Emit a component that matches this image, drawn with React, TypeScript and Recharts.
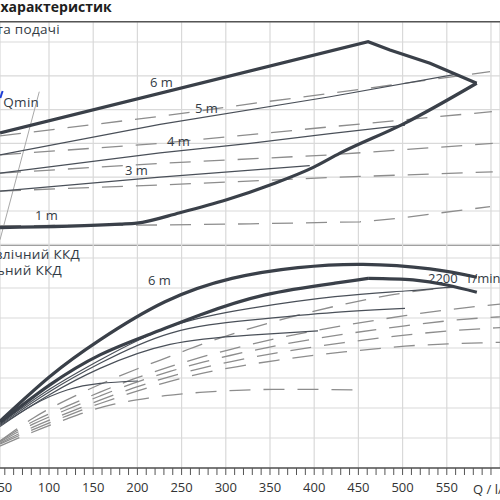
import { LineChart, Line, XAxis, YAxis, CartesianGrid, ReferenceLine } from "recharts"

type Pt = [number, number]

// Q in l/min on both panels
const majorTicks = [50, 100, 150, 200, 250, 300, 350, 400, 450, 500, 550, 600]
const labelTicks = [50, 100, 150, 200, 250, 300, 350, 400, 450, 500, 550]
const minorTicks = majorTicks.flatMap((m) => [m, m + 10, m + 20, m + 30, m + 40]).filter((t) => t <= 600)
const headTicks = [0, 1, 2, 3, 4, 5, 6]
const effTicks = [0, 10, 20, 30, 40, 50, 60, 70]

// top panel: head H / m
const envelopeTop: Pt[] = [[44.6, 3.31], [461, 6.01], [485.7, 5.76], [531, 5.37], [583.8, 4.78]]
const envelopeBottom: Pt[] = [
  [44.6, 0.51], [180.3, 0.61], [199.2, 0.64], [248.2, 0.95], [301, 1.33], [350, 1.77],
  [399, 2.29], [429.2, 2.71], [500.5, 3.57], [583.8, 4.78],
]
const head5: Pt[] = [[44.6, 2.66], [225.6, 3.56], [417.9, 4.38], [561.2, 5.05]]
const head4: Pt[] = [[44.6, 2.12], [225.6, 2.72], [327.4, 3.0], [418, 3.29], [502.7, 3.54]]
const head3: Pt[] = [[44.6, 1.59], [225.6, 2.0], [395, 2.34]]
const dash6: Pt[] = [[44.6, 3.22], [228.9, 3.81], [327.4, 4.17], [417.9, 4.48], [598.9, 5.12]]
const dash5: Pt[] = [[44.6, 2.66], [225.6, 3.0], [417.9, 3.49], [601, 3.94]]
const dash4: Pt[] = [[44.6, 2.12], [225.6, 2.41], [417.9, 2.66], [602, 3.0]]
const dash3: Pt[] = [[44.6, 1.59], [225.6, 1.77], [417.9, 1.99], [602, 2.16]]
const dash1: Pt[] = [[44.6, 0.565], [225.6, 0.586], [327.4, 0.62], [451.8, 0.68], [493.5, 0.78], [598.9, 1.13]]
const qminLine: Pt[] = [[44.6, 0.15], [89, 4.53]]

// bottom panel: efficiency / %
const effMax: Pt[] = [
  [44.6, 15.6], [101, 30.5], [157.7, 42.7], [231.2, 55.4], [307, 63.2], [381.7, 66.8],
  [455.2, 67.9], [531, 66.4], [584, 63.6],
]
const eff6Rise: Pt[] = [
  [44.6, 15.2], [101, 27.7], [157.7, 37.7], [214.2, 44.6], [270.8, 51], [344.3, 57.7],
  [423.5, 61.6], [461, 63.2],
]
const eff6Fall: Pt[] = [[461, 63.2], [511.8, 62.7], [550, 61], [584, 58.6]]
const eff5: Pt[] = [[44.6, 14.8], [101, 26.3], [157.7, 36], [236.9, 47.1], [327.4, 53.2], [423.5, 57.1], [502.7, 59], [557, 60.4]]
const eff4: Pt[] = [[44.6, 14.5], [101, 25.5], [157.7, 34.9], [236.9, 44.9], [327.4, 49.3], [423.5, 51.9], [502.7, 53.2]]
const eff3: Pt[] = [[44.6, 14.2], [101, 24.5], [157.7, 33.2], [236.9, 41.2], [327.4, 44.3], [404.3, 45.7]]
const eff1: Pt[] = [[44.6, 13.8], [81.9, 21], [120.4, 26], [157.7, 28.2], [200.6, 29]]

const totMax: Pt[] = [
  [44.6, 9], [81.9, 16.6], [138.5, 25.3], [199.5, 33], [236.9, 37.2], [276.5, 41.6], [318.3, 45.7],
  [355.6, 48.9], [397.5, 52.1], [437.1, 54.8], [477.8, 57.2], [519.7, 59.1], [557, 60.3],
]
const bundleQ = [44.6, 81.9, 120.4, 157.7, 195, 236.9, 274.2, 304.8, 357.9, 433.7, 476.7, 502.7, 555.9, 598.9, 610.2]
const totA = [9, 15.5, 20.6, 25.3, 29.6, 33.8, 37.1, 39.5, 43.2, 47.5, 49.6, 50.8, 52.9, 54.3, 54.6]
const totB = [8.7, 14.6, 19.5, 24, 28.2, 32.2, 35.3, 37.5, 40.8, 44.6, 46.4, 47.4, 49.2, 50.2, 50.4]
const totC = [8.3, 13.6, 18.3, 22.6, 26.6, 30.5, 33.4, 35.4, 38.4, 41.8, 43.4, 44.3, 45.8, 46.6, 46.8]
const totD = [8, 12.8, 17.4, 21.5, 25.2, 28.9, 31.6, 33.4, 35.9, 38.7, 39.9, 40.6, 41.4, 41.8, 41.9]
const tot1: Pt[] = [
  [44.6, 7.3], [81.9, 12], [120.4, 16.4], [149.8, 19.4], [172.4, 21.2], [214.2, 23.4], [231.2, 24.1],
  [270.8, 25.2], [312.7, 25.9], [353.4, 26.2], [395.2, 26.2], [449.5, 26],
]

const rows = (pts: Pt[]) => pts.map(([q, v]) => ({ q, v }))
const rowsOf = (vals: number[]) => vals.map((v, i) => ({ q: bundleQ[i], v }))

const qDomain: [number, number] = [44.57, 610.2]
const BOLD = "#3a4049"
const THIN = "#4a5059"
const DASH = "#8d8d8d"
const GRID = "#d9d9d9"

const bold = { stroke: BOLD, strokeWidth: 3.2, dot: false, isAnimationActive: false }
const thin = { stroke: THIN, strokeWidth: 1.2, dot: false, isAnimationActive: false }
const dashed = { stroke: DASH, strokeWidth: 1.3, strokeDasharray: "21 13", dot: false, isAnimationActive: false }

function QTick(props: any) {
  const { x, y, payload } = props
  if (!labelTicks.includes(payload.value)) return <g />
  return (
    <text x={x} y={y} dy="0.71em" textAnchor="middle" fontSize={13} fill="#333">
      {payload.value}
    </text>
  )
}

export default function App() {
  const txt = { fontSize: 13, fill: "#333b45" }
  const wide = { fontSize: 13.5, letterSpacing: 0.3, fill: "#333b45" }
  return (
    <div
      style={{
        position: "absolute",
        left: 0,
        top: 0,
        width: 500,
        height: 500,
        overflow: "hidden",
        background: "#fff",
        fontFamily: "'Open Sans', sans-serif",
      }}
    >
      <div style={{ position: "absolute", left: 0, top: 0 }}>
        <LineChart width={500} height={250} margin={{ top: 21.7, right: 0, bottom: 5.2, left: 0 }}>
          <CartesianGrid stroke={GRID} strokeWidth={1.2} />
          <XAxis type="number" dataKey="q" domain={qDomain} ticks={majorTicks} hide allowDataOverflow />
          <YAxis type="number" domain={[0, 6.6]} ticks={headTicks} hide allowDataOverflow />
          <ReferenceLine y={6.6} stroke="#555" strokeWidth={1.5} ifOverflow="visible" />
          <ReferenceLine y={0} stroke="#555" strokeWidth={1.5} ifOverflow="visible" />
          <Line data={rows(qminLine)} dataKey="v" type="linear" stroke="#a8a8a8" strokeWidth={1} dot={false} isAnimationActive={false} />
          <Line data={rows(dash6)} dataKey="v" type="linear" {...dashed} />
          <Line data={rows(dash5)} dataKey="v" type="linear" {...dashed} />
          <Line data={rows(dash4)} dataKey="v" type="linear" {...dashed} />
          <Line data={rows(dash3)} dataKey="v" type="linear" {...dashed} />
          <Line data={rows(dash1)} dataKey="v" type="linear" {...dashed} />
          <Line data={rows(head5)} dataKey="v" type="linear" {...thin} />
          <Line data={rows(head4)} dataKey="v" type="linear" {...thin} />
          <Line data={rows(head3)} dataKey="v" type="linear" {...thin} />
          <Line data={rows(envelopeTop)} dataKey="v" type="linear" {...bold} />
          <Line data={rows(envelopeBottom)} dataKey="v" type="monotone" {...bold} />
        </LineChart>
      </div>
      <div style={{ position: "absolute", left: 0, top: 240 }}>
        <LineChart width={500} height={260} margin={{ top: 4.3, right: 0, bottom: 0, left: 0 }}>
          <CartesianGrid xAxisId="grid" stroke={GRID} strokeWidth={1.2} />
          <XAxis xAxisId="grid" type="number" dataKey="q" domain={qDomain} ticks={majorTicks} hide allowDataOverflow />
          <XAxis
            type="number"
            dataKey="q"
            domain={qDomain}
            ticks={minorTicks}
            interval={0}
            height={32}
            tickSize={7}
            tickMargin={8}
            axisLine={{ stroke: "#555", strokeWidth: 1.5 }}
            tickLine={{ stroke: "#555" }}
            tick={QTick}
            allowDataOverflow
          />
          <YAxis type="number" domain={[0, 74.57]} ticks={effTicks} hide allowDataOverflow />
          <Line data={rows(tot1)} dataKey="v" type="monotone" {...dashed} />
          <Line data={rowsOf(totD)} dataKey="v" type="monotone" {...dashed} />
          <Line data={rowsOf(totC)} dataKey="v" type="monotone" {...dashed} />
          <Line data={rowsOf(totB)} dataKey="v" type="monotone" {...dashed} />
          <Line data={rowsOf(totA)} dataKey="v" type="monotone" {...dashed} />
          <Line data={rows(totMax)} dataKey="v" type="monotone" {...dashed} />
          <Line data={rows(eff1)} dataKey="v" type="natural" {...thin} />
          <Line data={rows(eff3)} dataKey="v" type="natural" {...thin} />
          <Line data={rows(eff4)} dataKey="v" type="natural" {...thin} />
          <Line data={rows(eff5)} dataKey="v" type="natural" {...thin} />
          <Line data={rows(eff6Rise)} dataKey="v" type="natural" {...bold} />
          <Line data={rows(eff6Fall)} dataKey="v" type="natural" {...bold} />
          <Line data={rows(effMax)} dataKey="v" type="natural" {...bold} />
        </LineChart>
      </div>
      <svg
        width={500}
        height={500}
        style={{ position: "absolute", left: 0, top: 0, pointerEvents: "none" }}
        fontFamily="'Open Sans', sans-serif"
      >
        <text x={0.5} y={11.5} fontSize={14} fontWeight="bold" fill="#1e1e1e">характеристик</text>
        <text x={60} y={34} textAnchor="end" {...wide}>Висота подачі</text>
        <line x1={0.3} y1={98} x2={2.6} y2={91} stroke="#1f3fd6" strokeWidth={2} />
        <text x={3.3} y={106.5} {...wide}>Qmin</text>
        <text x={150} y={87} {...txt}>6 m</text>
        <text x={195} y={113} {...txt}>5 m</text>
        <text x={167} y={145.5} {...txt}>4 m</text>
        <text x={125} y={175} {...txt}>3 m</text>
        <text x={35} y={220} {...txt}>1 m</text>
        <text x={80} y={258.5} textAnchor="end" {...wide}>Гідравлічний ККД</text>
        <text x={62} y={274.5} textAnchor="end" {...wide}>Загальний ККД</text>
        <text x={148} y={285} {...txt}>6 m</text>
        <text x={428} y={282.5} {...txt}>2200</text>
        <text x={465} y={282.5} {...txt}>1/min</text>
        <text x={473} y={493.5} fontSize={13} fill="#333">Q / l/min</text>
      </svg>
    </div>
  )
}
